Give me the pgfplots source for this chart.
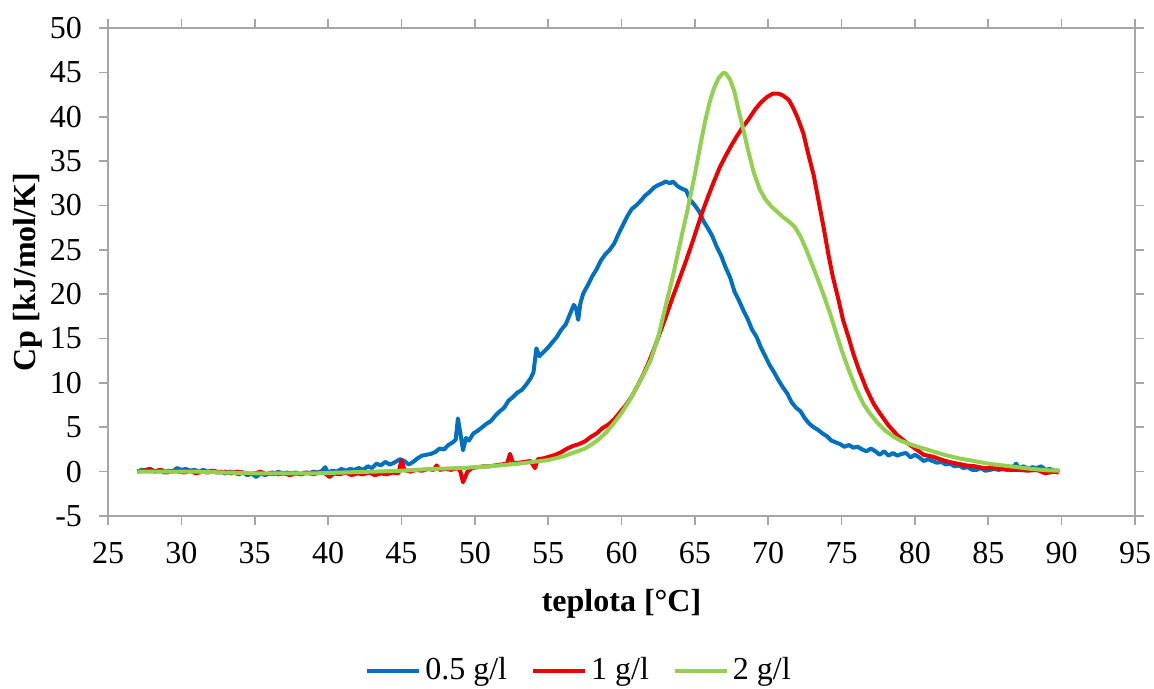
\documentclass[border=0pt]{standalone}
\usepackage{fontspec}
\setmainfont{Liberation Serif}
\usepackage{pgfplots}
\pgfplotsset{compat=1.18}

\definecolor{cBlue}{HTML}{0070C0}
\definecolor{cRed}{HTML}{EE0000}
\definecolor{cGreen}{HTML}{92D050}
\definecolor{cAxis}{HTML}{A6A6A6}

\begin{document}
\fontsize{16pt}{19pt}\selectfont
\begin{tikzpicture}
\begin{axis}[
  scale only axis, width=513.5pt, height=244pt,
  xmin=25, xmax=95, ymin=-5, ymax=50,
  xtick={25,30,...,95}, ytick={-5,0,...,50},
  xticklabels={25,30,35,40,45,50,55,60,65,70,75,80,85,90,95},
  yticklabels={-5,0,5,10,15,20,25,30,35,40,45,50},
  tick align=outside, major tick length=4.5pt,
  axis line style={cAxis, line width=0.8pt},
  tick style={cAxis, line width=0.8pt},
  tick label style={font=\fontsize{16pt}{19pt}\selectfont},
  yticklabel style={xshift=-3pt},
  xticklabel style={yshift=-3pt},
  xlabel={\bfseries teplota [°C]}, ylabel={\bfseries Cp [kJ/mol/K]},
  label style={font=\fontsize{16pt}{19pt}\selectfont},
  xlabel style={yshift=-2pt},
  ylabel style={yshift=-7pt},
  legend columns=3,
  legend style={at={(rel axis cs:0.4596,-0.317)}, anchor=center, draw=none, fill=none,
    font=\fontsize{16pt}{19pt}\selectfont, /tikz/every even column/.append style={column sep=10pt}},
  legend image code/.code={\draw[#1] plot coordinates {(0pt,0pt)(26pt,0pt)};},
  every axis plot/.append style={line width=2pt, line join=round},
]
\addplot[cBlue] coordinates {
(27.0,0.0)(27.3,0.2)(27.6,0.1)(27.9,0.3)(28.2,0.0)(28.5,0.2)(28.8,-0.1)(29.1,0.1)(29.4,0.0)(29.7,0.4)(30.0,0.2)(30.3,0.3)(30.6,0.1)(30.9,0.2)(31.2,0.0)(31.5,0.2)(31.8,0.0)(32.1,0.1)(32.4,-0.1)(32.7,0.0)(33.0,-0.2)(33.3,0.0)(33.6,-0.1)(33.9,-0.3)(34.2,-0.1)(34.5,-0.4)(34.8,-0.2)(35.1,-0.6)(35.4,-0.2)(35.7,-0.4)(36.0,-0.2)(36.3,-0.3)(36.6,0.0)(36.9,-0.2)(37.2,-0.1)(37.5,-0.2)(37.8,-0.1)(38.1,-0.3)(38.4,-0.1)(38.7,-0.2)(39.0,0.0)(39.3,-0.1)(39.6,0.1)(39.8,0.5)(40.0,-0.1)(40.3,0.1)(40.6,0.0)(40.9,0.3)(41.2,0.1)(41.5,0.3)(41.8,0.2)(42.1,0.4)(42.4,0.2)(42.7,0.6)(43.0,0.4)(43.3,0.9)(43.6,0.7)(43.9,1.1)(44.2,0.8)(44.5,1.0)(44.9,1.4)(45.2,1.2)(45.5,0.8)(45.8,1.1)(46.1,1.5)(46.4,1.8)(46.7,1.9)(47.0,2.0)(47.3,2.2)(47.6,2.6)(47.9,2.5)(48.2,3.0)(48.5,3.3)(48.7,3.6)(48.85,6.0)(49.0,4.5)(49.2,2.4)(49.4,3.8)(49.6,3.5)(49.9,4.3)(50.2,4.6)(50.5,5.0)(50.8,5.4)(51.1,5.7)(51.4,6.3)(51.7,6.8)(52.0,7.2)(52.3,8.0)(52.6,8.4)(52.9,8.9)(53.2,9.2)(53.5,9.8)(53.8,10.5)(54.0,11.2)(54.2,13.9)(54.4,13.0)(54.7,13.5)(55.0,14.0)(55.3,14.6)(55.6,15.2)(55.9,16.0)(56.2,16.6)(56.5,17.8)(56.75,18.8)(56.9,18.4)(57.05,17.1)(57.2,19.0)(57.4,20.1)(57.7,21.0)(58.0,22.0)(58.3,22.8)(58.6,23.8)(58.9,24.5)(59.2,25.0)(59.5,25.7)(59.8,26.8)(60.1,27.8)(60.4,28.8)(60.7,29.6)(61.0,30.0)(61.3,30.5)(61.6,31.1)(61.9,31.5)(62.2,32.0)(62.5,32.3)(62.8,32.5)(63.0,32.7)(63.3,32.5)(63.5,32.7)(63.8,32.2)(64.1,31.9)(64.4,31.7)(64.7,30.6)(65.0,30.0)(65.3,29.3)(65.6,28.2)(65.9,27.4)(66.2,26.5)(66.5,25.3)(66.8,24.3)(67.1,23.0)(67.4,21.9)(67.7,20.3)(68.0,19.3)(68.3,18.2)(68.6,17.2)(68.9,16.0)(69.2,15.2)(69.5,14.0)(69.8,13.0)(70.1,12.0)(70.4,11.2)(70.7,10.3)(71.0,9.5)(71.3,8.8)(71.6,7.8)(71.9,7.2)(72.2,6.8)(72.5,6.0)(72.8,5.4)(73.1,5.0)(73.4,4.7)(73.7,4.3)(74.0,4.0)(74.3,3.5)(74.6,3.3)(74.9,3.1)(75.2,2.8)(75.5,3.0)(75.8,2.7)(76.1,2.8)(76.4,2.5)(76.7,2.3)(77.0,2.6)(77.3,2.3)(77.6,1.9)(77.9,2.3)(78.2,1.8)(78.5,2.1)(78.8,1.8)(79.1,2.0)(79.4,2.1)(79.7,1.6)(80.0,1.9)(80.3,1.6)(80.6,1.2)(80.9,1.4)(81.2,1.2)(81.5,1.0)(81.8,1.1)(82.1,0.8)(82.4,0.9)(82.7,0.6)(83.0,0.7)(83.3,0.4)(83.6,0.5)(83.9,0.2)(84.2,0.2)(84.5,0.4)(84.8,0.1)(85.1,0.2)(85.4,0.3)(85.7,0.2)(86.0,0.3)(86.3,0.2)(86.6,0.4)(86.9,0.9)(87.1,0.4)(87.4,0.6)(87.7,0.3)(88.0,0.5)(88.3,0.4)(88.6,0.6)(88.9,0.2)(89.2,0.3)(89.5,0.1)(89.8,0.1)
};
\addlegendentry{0.5 g/l}
\addplot[cRed] coordinates {
(27.0,0.0)(27.4,0.1)(27.8,0.3)(28.2,0.0)(28.6,0.2)(29.0,-0.1)(29.4,0.1)(29.8,0.0)(30.2,-0.1)(30.6,0.1)(31.0,-0.2)(31.4,0.0)(31.8,-0.1)(32.2,0.1)(32.6,-0.1)(33.0,0.0)(33.4,-0.2)(33.8,0.0)(34.2,-0.1)(34.6,-0.3)(35.0,-0.2)(35.4,0.0)(35.8,-0.3)(36.2,-0.1)(36.6,-0.3)(37.0,-0.2)(37.4,-0.4)(37.8,-0.2)(38.2,-0.3)(38.6,-0.1)(39.0,-0.3)(39.4,-0.1)(39.8,-0.2)(40.1,-0.6)(40.4,-0.2)(40.8,-0.3)(41.2,-0.1)(41.6,-0.4)(42.0,-0.2)(42.4,-0.3)(42.8,-0.1)(43.2,-0.4)(43.6,-0.2)(44.0,-0.3)(44.4,-0.1)(44.8,-0.2)(45.0,1.3)(45.2,0.2)(45.6,0.0)(46.0,0.2)(46.4,0.1)(46.8,0.3)(47.2,0.2)(47.4,0.7)(47.6,0.2)(48.0,0.3)(48.4,0.2)(48.8,0.4)(49.0,0.1)(49.2,-1.2)(49.5,0.0)(49.8,0.4)(50.2,0.5)(50.6,0.6)(51.0,0.6)(51.4,0.7)(51.8,0.8)(52.2,0.9)(52.4,2.0)(52.6,1.0)(53.0,1.0)(53.4,1.1)(53.8,1.2)(54.1,0.4)(54.3,1.4)(54.7,1.5)(55.1,1.7)(55.5,1.9)(55.9,2.2)(56.3,2.6)(56.7,2.9)(57.1,3.1)(57.5,3.4)(57.9,3.9)(58.3,4.3)(58.7,4.9)(59.1,5.3)(59.5,5.9)(59.9,6.7)(60.3,7.5)(60.7,8.5)(61.1,9.7)(61.5,11.0)(61.9,12.5)(62.3,14.2)(62.7,16.0)(63.1,17.8)(63.5,19.7)(63.9,21.5)(64.3,23.3)(64.7,25.2)(65.1,27.2)(65.5,29.2)(65.9,31.0)(66.3,32.7)(66.7,34.3)(67.1,35.6)(67.5,36.8)(67.9,37.9)(68.3,38.9)(68.7,39.8)(69.1,40.8)(69.5,41.6)(69.9,42.2)(70.3,42.6)(70.7,42.6)(71.0,42.4)(71.4,41.9)(71.7,41.0)(72.0,39.9)(72.4,38.1)(72.7,36.0)(73.1,33.4)(73.4,30.8)(73.8,27.3)(74.1,24.5)(74.4,22.0)(74.8,19.3)(75.1,17.1)(75.5,15.0)(75.8,13.3)(76.2,11.4)(76.7,9.3)(77.2,7.6)(77.6,6.6)(78.2,5.2)(78.8,4.1)(79.4,3.3)(80.1,2.5)(80.6,1.9)(81.2,1.7)(81.7,1.4)(82.3,1.1)(82.9,0.9)(83.5,0.7)(84.1,0.6)(84.7,0.4)(85.3,0.4)(85.9,0.3)(86.5,0.2)(87.1,0.2)(87.7,0.1)(88.3,0.2)(88.9,-0.2)(89.4,0.0)(89.8,-0.1)
};
\addlegendentry{1 g/l}
\addplot[cGreen] coordinates {
(27.0,0.0)(29,0.0)(31,0.0)(33,-0.1)(35,-0.2)(37,-0.2)(39,-0.2)(41,-0.1)(43,0.0)(45,0.1)(47,0.3)(49,0.4)(51,0.6)(53,0.9)(54,1.1)(55,1.3)(56,1.7)(57,2.3)(57.5,2.6)(58,3.1)(58.5,3.7)(59,4.5)(59.5,5.5)(60,6.6)(60.5,7.9)(61,9.4)(61.5,10.9)(62,12.6)(62.5,15.2)(63,18.6)(63.5,22.0)(64,25.8)(64.5,29.5)(65,33.5)(65.4,37.0)(65.7,39.5)(66.0,41.6)(66.3,43.2)(66.6,44.3)(66.9,44.9)(67.1,44.9)(67.4,44.2)(67.7,42.8)(68.0,40.6)(68.3,38.6)(68.6,36.4)(69,33.8)(69.4,31.9)(69.8,30.7)(70.2,29.9)(70.6,29.3)(71,28.7)(71.4,28.2)(71.8,27.6)(72.2,26.5)(72.6,25.0)(73,23.3)(73.4,21.6)(73.8,19.8)(74.2,17.9)(74.6,15.8)(75,13.7)(75.5,11.4)(76,9.3)(76.5,7.6)(77,6.4)(77.5,5.4)(78,4.6)(78.5,4.0)(79,3.5)(80,2.9)(81,2.4)(82,1.9)(83,1.5)(84,1.2)(85,0.9)(86,0.7)(87,0.5)(88,0.3)(89,0.15)(89.9,0.1)
};
\addlegendentry{2 g/l}
\draw[cAxis, line width=0.8pt] (rel axis cs:0,1) -- (rel axis cs:1,1) -- (rel axis cs:1,0);
\end{axis}
\pgfresetboundingbox
\path[use as bounding box] ([shift={(-54pt,-86.5pt)}]current axis.south west) rectangle ([shift={(9.5pt,14pt)}]current axis.north east);
\end{tikzpicture}
\end{document}
